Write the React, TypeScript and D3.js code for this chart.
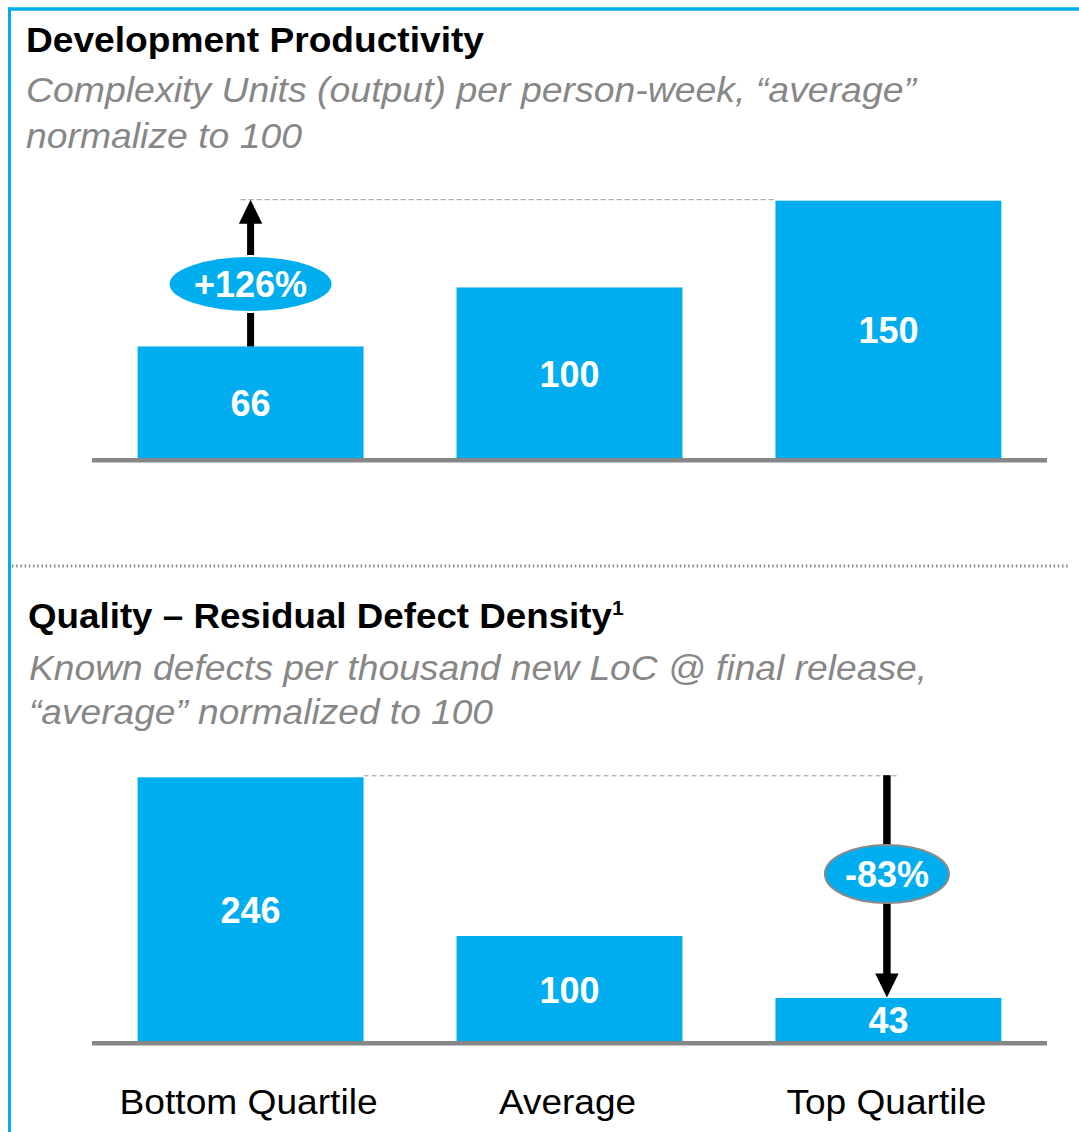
import React from "react";
import * as d3 from "d3";

const categories = ["Bottom Quartile", "Average", "Top Quartile"];
const productivityValues = [66, 100, 150];
const qualityValues = [246, 100, 43];
const productivityChange = "+126%";
const qualityChange = "-83%";

const BLUE = "#00AEEF";
const GRAY = "#878787";
const FONT = "'Liberation Sans', Arial, Helvetica, sans-serif";

export default function App() {
  const W = 1079;
  const H = 1132;
  const x = d3
    .scaleBand<string>()
    .domain(categories)
    .range([92, 1047])
    .paddingInner(0.2915)
    .paddingOuter(0.143);
  const bw = x.bandwidth();
  const cx = (c: string) => (x(c) as number) + bw / 2;

  const yTop = d3.scaleLinear().domain([0, 150]).range([461, 200.7]);
  const yBot = d3.scaleLinear().domain([0, 246]).range([1044.7, 777.3]);

  const arrowHead = (xc: number, tipY: number, dir: number) => {
    const hw = 11.7;
    const hl = 24;
    return `M${xc},${tipY} L${xc - hw},${tipY + dir * hl} L${xc + hw},${tipY + dir * hl} Z`;
  };

  const c0 = categories[0];
  const c2 = categories[2];
  const topArrowX = cx(c0);
  const topTip = yTop(productivityValues[2]) - 1;
  const botArrowX = cx(c2) - 1.5;
  const botStart = yBot(qualityValues[0]);
  const botTip = yBot(qualityValues[2]) - 0.5;

  const labelLengths = [258, 137, 200];

  return (
    <svg
      width={W}
      height={H}
      style={{ position: "absolute", left: 0, top: 0, display: "block", background: "#fff" }}
      fontFamily={FONT}
    >
      {/* frame */}
      <line x1={8} x2={W} y1={9} y2={9} stroke={BLUE} strokeWidth={3.5} />
      <line x1={9.5} x2={9.5} y1={7.5} y2={H} stroke={BLUE} strokeWidth={3} />

      {/* Top chart titles */}
      <text x={26} y={52} fontSize={35} fontWeight="bold" fill="#000" textLength={458} lengthAdjust="spacingAndGlyphs">
        Development Productivity
      </text>
      <text x={26} y={102} fontSize={35} fontStyle="italic" fill={GRAY} textLength={890} lengthAdjust="spacingAndGlyphs">
        Complexity Units (output) per person-week, “average”
      </text>
      <text x={26} y={148} fontSize={35} fontStyle="italic" fill={GRAY} textLength={276} lengthAdjust="spacingAndGlyphs">
        normalize to 100
      </text>

      {/* Top dashed reference */}
      <line x1={topArrowX - 10} x2={x(c2) as number} y1={topTip} y2={topTip} stroke="#999" strokeWidth={1} strokeDasharray="5,3" />

      {/* Top bars */}
      {categories.map((c, i) => (
        <g key={"t" + c}>
          <rect x={x(c)} y={yTop(productivityValues[i])} width={bw} height={yTop(0) - yTop(productivityValues[i])} fill={BLUE} />
          <text
            x={cx(c)}
            y={(yTop(productivityValues[i]) + 458) / 2 + 14}
            textAnchor="middle"
            fontSize={36}
            fontWeight="bold"
            fill="#fff"
          >
            {productivityValues[i]}
          </text>
        </g>
      ))}
      <line x1={92} x2={1047} y1={460.3} y2={460.3} stroke={GRAY} strokeWidth={4.5} />

      {/* Top arrow */}
      <line x1={topArrowX} x2={topArrowX} y1={yTop(productivityValues[0])} y2={topTip + 22} stroke="#000" strokeWidth={7} />
      <path d={arrowHead(topArrowX, topTip, 1)} fill="#000" />
      <ellipse cx={topArrowX} cy={284} rx={82} ry={28} fill={BLUE} stroke="#fff" strokeWidth={2} />
      <text x={topArrowX} y={297} textAnchor="middle" fontSize={36} fontWeight="bold" fill="#fff">
        {productivityChange}
      </text>

      {/* separator */}
      <line x1={12} x2={1068} y1={566} y2={566} stroke="#8a8a8a" strokeWidth={3} strokeDasharray="1.5,2.7" />

      {/* Bottom titles */}
      <text x={28} y={628} fontSize={35} fontWeight="bold" fill="#000">
        <tspan textLength={584} lengthAdjust="spacingAndGlyphs">Quality – Residual Defect Density</tspan>
        <tspan fontSize={21} dy={-13}>1</tspan>
      </text>
      <text x={29} y={680} fontSize={35} fontStyle="italic" fill={GRAY} textLength={898} lengthAdjust="spacingAndGlyphs">
        Known defects per thousand new LoC @ final release,
      </text>
      <text x={29} y={724} fontSize={35} fontStyle="italic" fill={GRAY} textLength={464} lengthAdjust="spacingAndGlyphs">
        “average” normalized to 100
      </text>

      {/* Bottom dashed reference */}
      <line x1={(x(c0) as number) + bw} x2={botArrowX + 10} y1={botStart - 1.5} y2={botStart - 1.5} stroke="#999" strokeWidth={1} strokeDasharray="5,3" />

      {/* Bottom bars */}
      {categories.map((c, i) => (
        <g key={"b" + c}>
          <rect x={x(c)} y={yBot(qualityValues[i])} width={bw} height={yBot(0) - yBot(qualityValues[i])} fill={BLUE} />
          <text
            x={cx(c)}
            y={(yBot(qualityValues[i]) + 1041) / 2 + 14}
            textAnchor="middle"
            fontSize={36}
            fontWeight="bold"
            fill="#fff"
          >
            {qualityValues[i]}
          </text>
        </g>
      ))}
      <line x1={92} x2={1047} y1={1043.3} y2={1043.3} stroke={GRAY} strokeWidth={4.5} />

      {/* Bottom arrow */}
      <line x1={botArrowX} x2={botArrowX} y1={botStart - 2} y2={botTip - 22} stroke="#000" strokeWidth={7.5} />
      <path d={arrowHead(botArrowX, botTip, -1)} fill="#000" />
      <ellipse cx={botArrowX} cy={874} rx={62} ry={29} fill={BLUE} stroke="#8a8a8a" strokeWidth={2} />
      <text x={botArrowX} y={887} textAnchor="middle" fontSize={36} fontWeight="bold" fill="#fff">
        {qualityChange}
      </text>

      {/* category labels */}
      {categories.map((c, i) => (
        <text
          key={"l" + c}
          x={cx(c) - 2}
          y={1114}
          textAnchor="middle"
          fontSize={35}
          fill="#000"
          textLength={labelLengths[i]}
          lengthAdjust="spacingAndGlyphs"
        >
          {c}
        </text>
      ))}
    </svg>
  );
}
